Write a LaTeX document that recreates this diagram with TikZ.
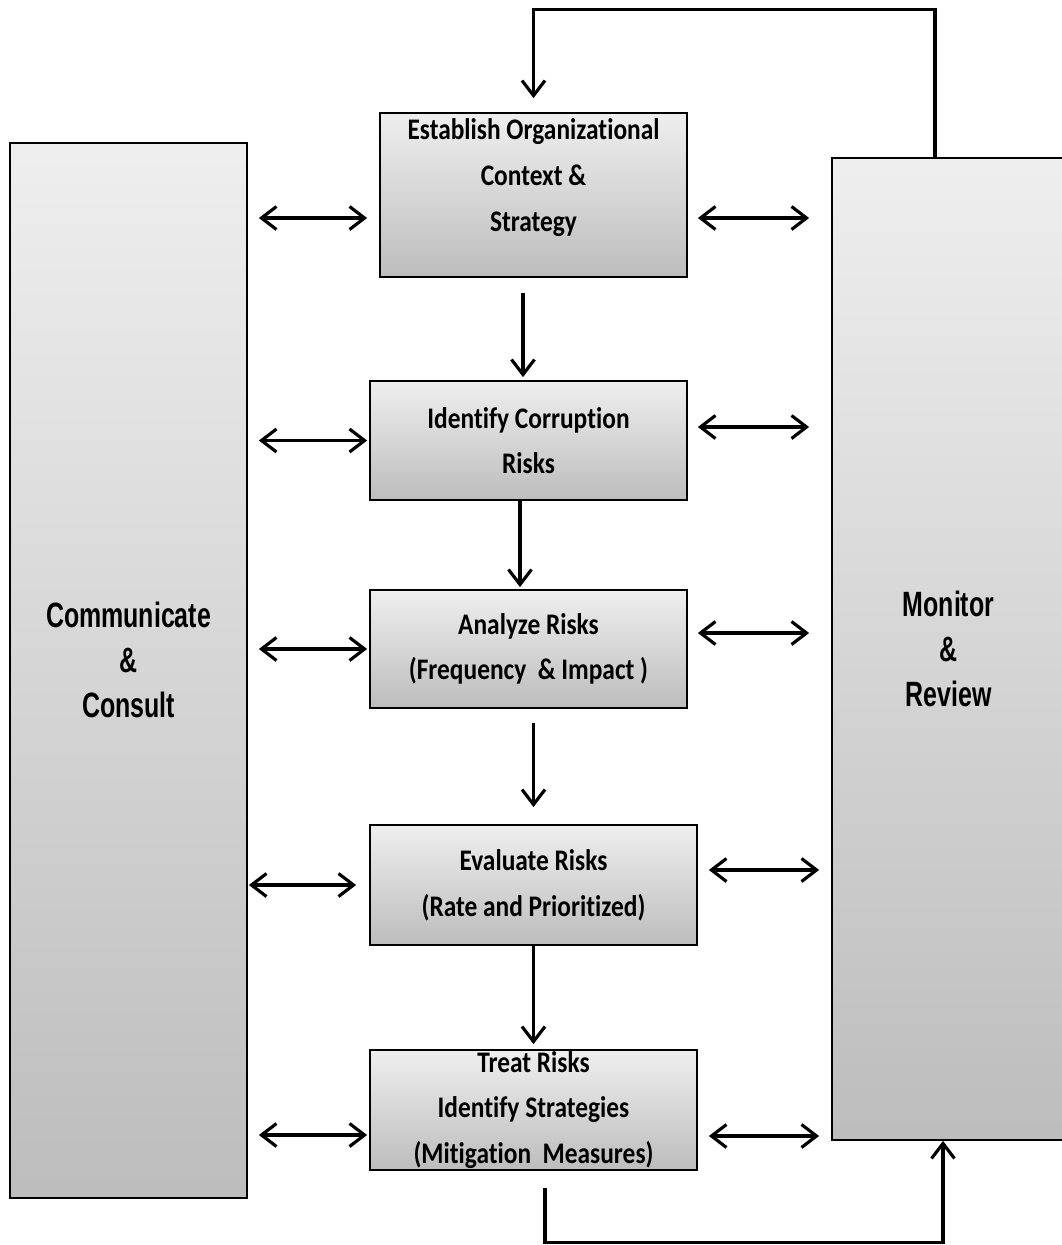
\documentclass[tikz,border=0pt]{standalone}
\usepackage{fontspec}
\usetikzlibrary{arrows.meta}
\newfontfamily\boxfont[Ligatures=NoCommon,FakeStretch=0.85]{Carlito}
\newfontfamily\sidefont[FakeStretch=0.71]{Liberation Sans}
\colorlet{BoxTop}{gray!13}
\colorlet{BoxBottom}{gray!52}

\begin{document}
\begin{tikzpicture}[
      stepbox/.style={draw,line width=1pt,top color=BoxTop,bottom color=BoxBottom,inner sep=0pt,align=center,font={\boxfont\bfseries\fontsize{17}{26}\selectfont}},
      sidebox/.style={draw,line width=1pt,top color=BoxTop,bottom color=BoxBottom,inner sep=0pt,align=center,font={\sidefont\bfseries\fontsize{20}{25.5}\selectfont}},
      link/.style={{Straight Barb[length=3mm,width=4.6mm]}-{Straight Barb[length=3mm,width=4.6mm]},line width=1.8pt},
      flow/.style={-{Straight Barb[length=3mm,width=4.6mm]},line width=1.8pt}
    ]
    \useasboundingbox (0,0) rectangle (21.24,-24.9);
    % side columns
    \node[sidebox,minimum width=4.74cm,minimum height=21.1cm,text depth=0.42cm] (comm) at (2.57,-13.41) {Communicate\\\&\\Consult};
    \node[sidebox,minimum width=4.66cm,minimum height=19.64cm] (monitor) at (18.97,-12.98) {Monitor\\\&\\Review};
    % process steps
    \node[stepbox,minimum width=6.14cm,minimum height=3.28cm,text depth=0.8cm] (establish) at (10.67,-3.9) {Establish Organizational\\Context \&\\Strategy};
    \node[stepbox,minimum width=6.34cm,minimum height=2.38cm] (identify) at (10.57,-8.81) {Identify Corruption\\Risks};
    \node[stepbox,minimum width=6.34cm,minimum height=2.36cm] (analyze) at (10.57,-12.98) {Analyze Risks\\(Frequency\ \ \& Impact )};
    \node[stepbox,minimum width=6.54cm,minimum height=2.4cm] (evaluate) at (10.67,-17.7) {Evaluate Risks\\(Rate and Prioritized)};
    \node[stepbox,minimum width=6.54cm,minimum height=2.4cm] (treat) at (10.67,-22.2) {Treat Risks\\Identify Strategies\\(Mitigation\ \ Measures)};
    % links to the side columns
    \draw[link,shorten <=0.22cm,shorten >=0.24cm] ([yshift=-0.46cm]comm.east |- establish.west) -- ([yshift=-0.46cm]establish.west);
    \draw[link,shorten <=0.2cm,shorten >=0.44cm] ([yshift=-0.46cm]establish.east) -- ([yshift=-0.46cm]monitor.west |- establish.east);
    \draw[link,shorten <=0.22cm,shorten >=0.04cm] (comm.east |- identify.west) -- (identify.west);
    \draw[link,shorten <=0.2cm,shorten >=0.44cm] ([yshift=0.27cm]identify.east) -- ([yshift=0.27cm]monitor.west |- identify.east);
    \draw[link,shorten <=0.22cm,shorten >=0.04cm] (comm.east |- analyze.west) -- (analyze.west);
    \draw[link,shorten <=0.2cm,shorten >=0.44cm] ([yshift=0.32cm]analyze.east) -- ([yshift=0.32cm]monitor.west |- analyze.east);
    \draw[link,shorten <=0.02cm,shorten >=0.26cm] (comm.east |- evaluate.west) -- (evaluate.west);
    \draw[link,shorten <=0.22cm,shorten >=0.24cm] ([yshift=0.3cm]evaluate.east) -- ([yshift=0.3cm]monitor.west |- evaluate.east);
    \draw[link,shorten <=0.22cm,shorten >=0.04cm] ([yshift=-0.5cm]comm.east |- treat.west) -- ([yshift=-0.5cm]treat.west);
    \draw[link,shorten <=0.22cm,shorten >=0.24cm] ([yshift=-0.52cm]treat.east) -- ([yshift=-0.52cm]monitor.west |- treat.east);
    % main sequence
    \draw[flow,shorten <=0.3cm,shorten >=0.06cm] ([xshift=-0.21cm]establish.south) -- ([xshift=-0.21cm]establish.south |- identify.north);
    \draw[flow,shorten >=0.04cm] ([xshift=-0.17cm]identify.south) -- ([xshift=-0.17cm]identify.south |- analyze.north);
    \draw[flow,shorten <=0.28cm,shorten >=0.34cm] (analyze.south -| evaluate.north) -- (evaluate.north);
    \draw[flow,shorten >=0.1cm] (evaluate.south) -- (treat.north);
    % feedback loops
    \draw[flow,shorten <=0.34cm] ([xshift=0.23cm]treat.south) -- ++(0,-1.44) -| ([xshift=-0.11cm]monitor.south);
    \draw[flow,shorten >=0.28cm] ([xshift=-0.27cm]monitor.north) -- ++(0,2.96) -| (establish.north);
  \end{tikzpicture}
\end{document}
